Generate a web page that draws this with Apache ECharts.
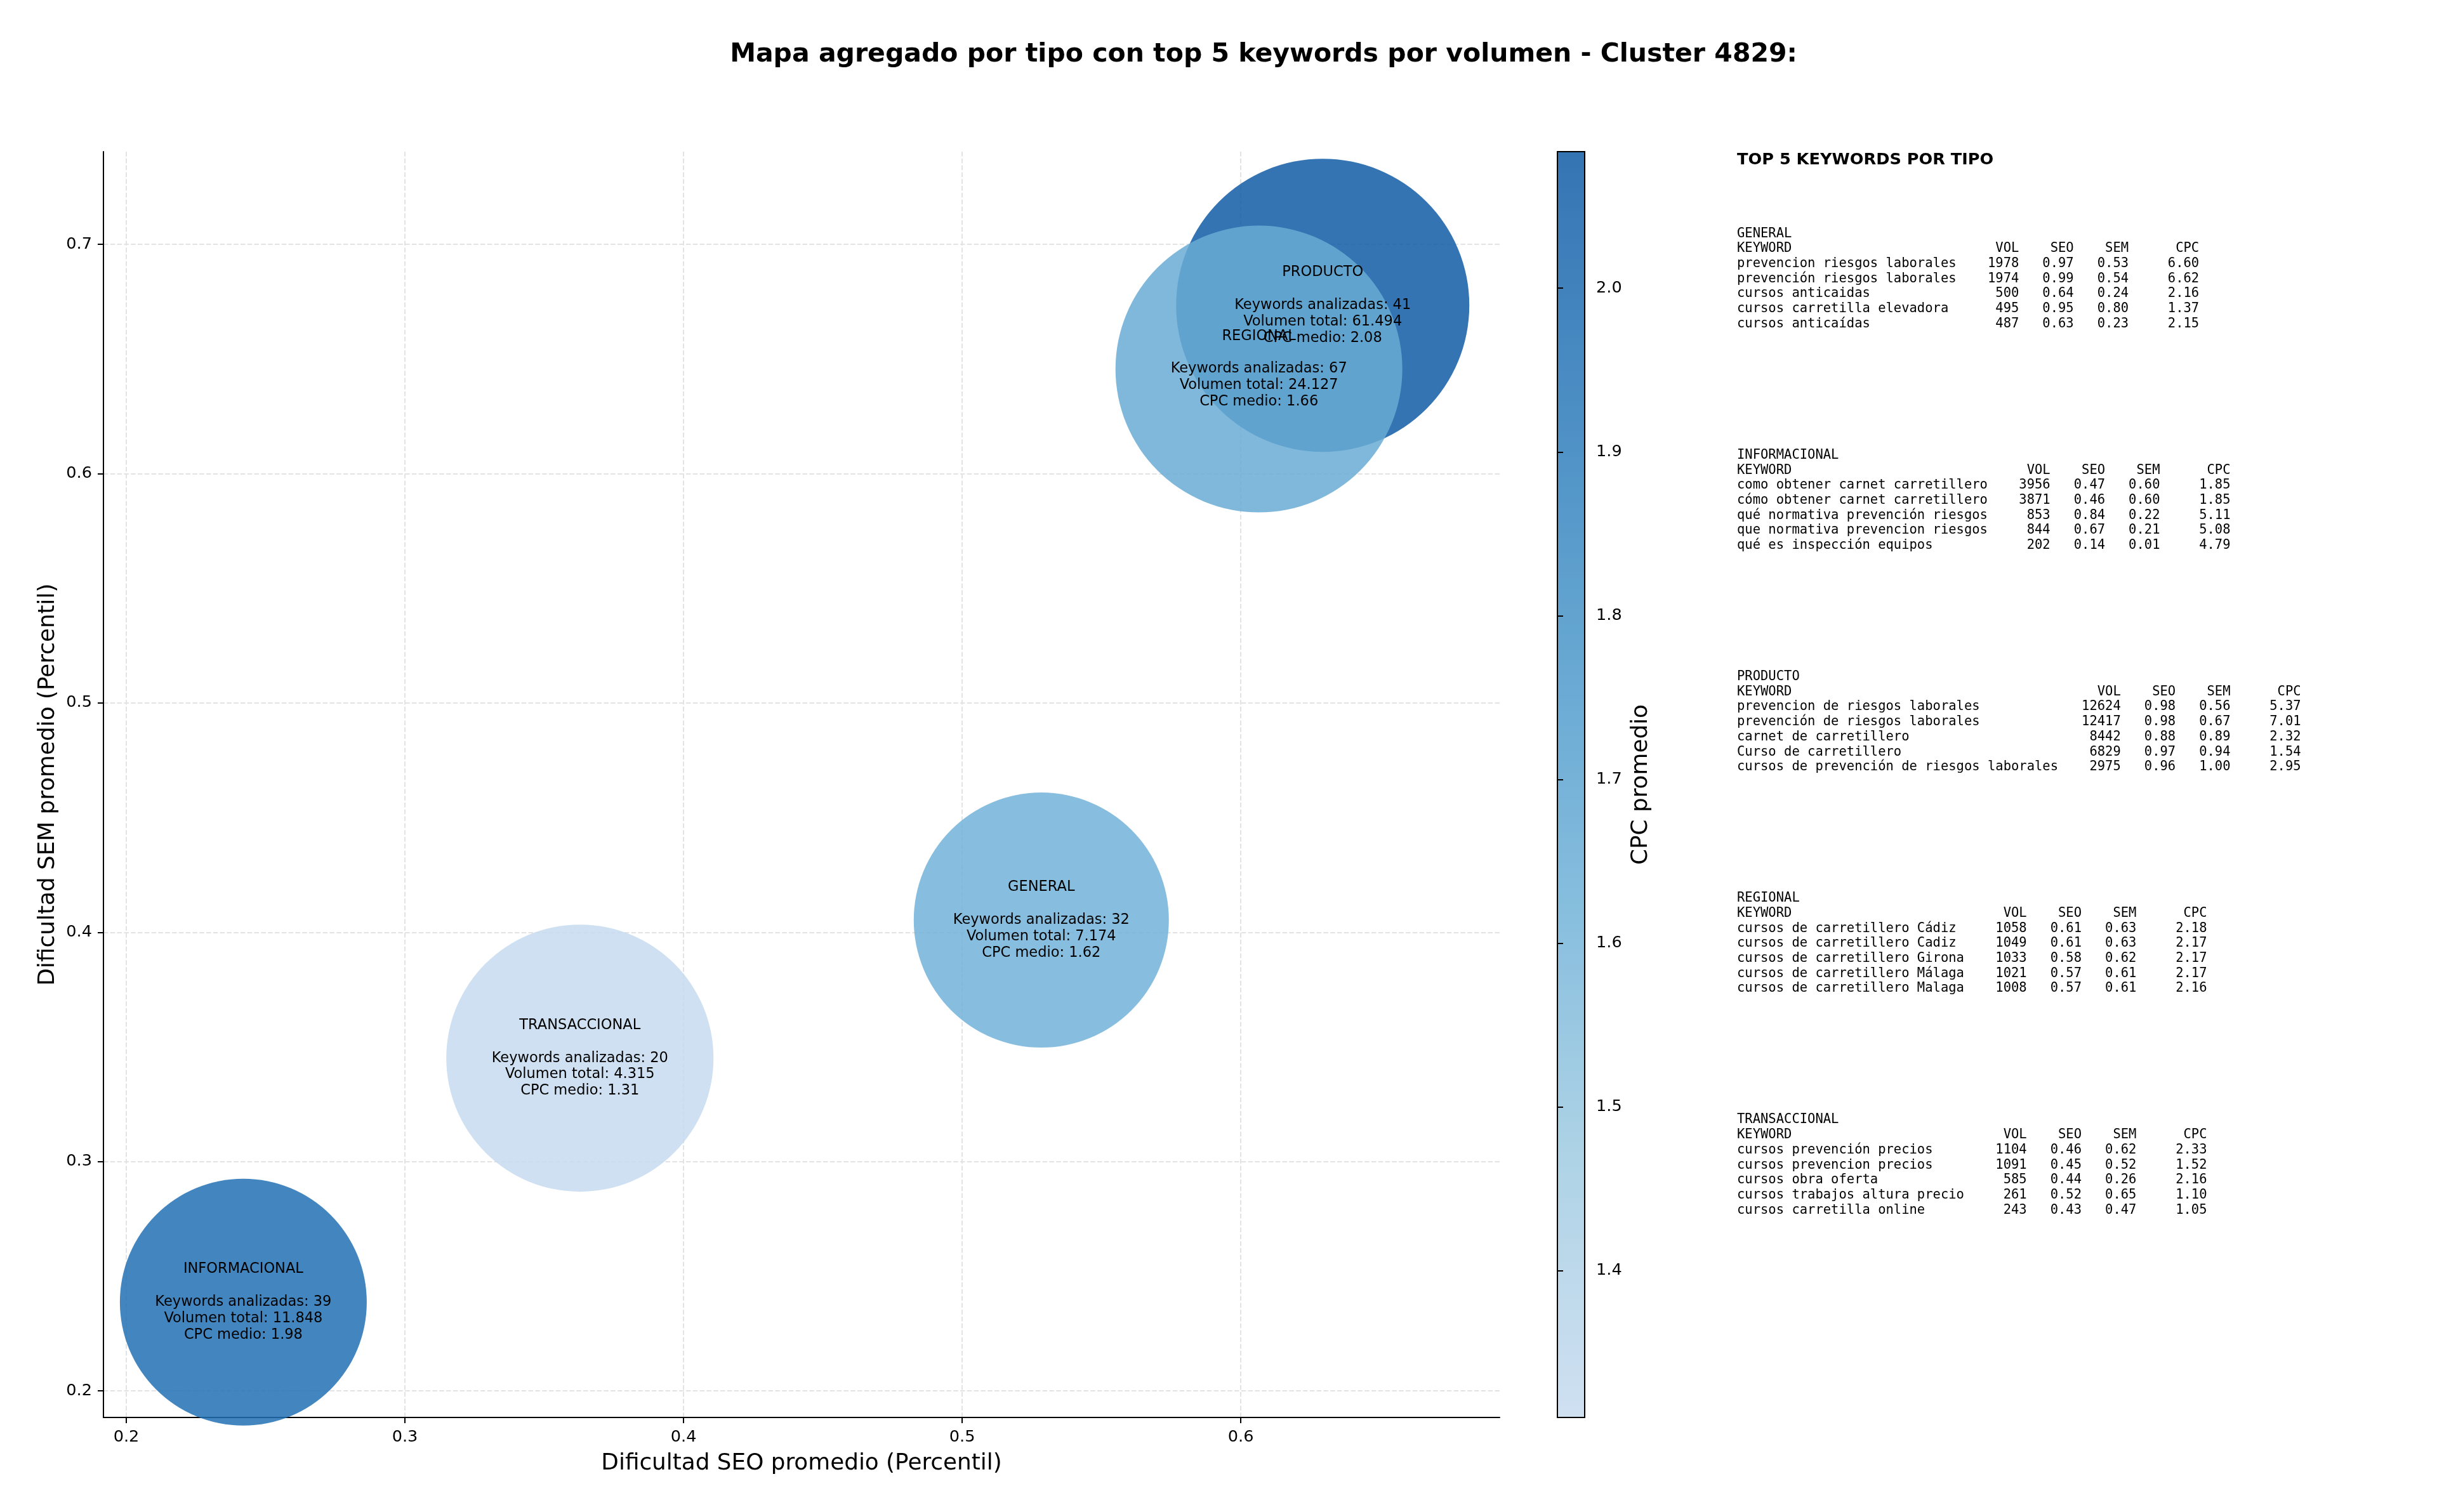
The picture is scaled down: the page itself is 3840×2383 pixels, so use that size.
<!DOCTYPE html>
<html>
<head>
<meta charset="utf-8">
<script src="https://cdn.jsdelivr.net/npm/echarts@6/dist/echarts.min.js"></script>
<style>
html, body { margin: 0; padding: 0; background: #fff; }
#chart { width: 3840px; height: 2383px; }
</style>
</head>
<body>
<div id="chart"></div>
<script>
// datos agregados por tipo (orden de dibujo)
var tipos = ['GENERAL', 'INFORMACIONAL', 'PRODUCTO', 'REGIONAL', 'TRANSACCIONAL'];
var seoMedio = [0.5284, 0.2420, 0.6294, 0.6065, 0.3628];
var semMedio = [0.4053, 0.2387, 0.6734, 0.6456, 0.3451];
var cpcMedio = [1.62, 1.98, 2.0834, 1.66, 1.3104];
var numKeywords = [32, 39, 41, 67, 20];
var volumenTotal = [7174, 11848, 61494, 24127, 4315];
var tamanoBurbuja = [402, 389, 462, 452, 421];

// ticks
var xTicks = [0.2, 0.3, 0.4, 0.5, 0.6];
var yTicks = [0.2, 0.3, 0.4, 0.5, 0.6, 0.7];
var cbTicks = [1.4, 1.5, 1.6, 1.7, 1.8, 1.9, 2.0];

// top 5 keywords: [keyword, vol, seo, sem, cpc]
var topGeneral = [
    ['prevencion riesgos laborales', 1978, 0.97, 0.53, 6.60],
    ['prevención riesgos laborales', 1974, 0.99, 0.54, 6.62],
    ['cursos anticaidas', 500, 0.64, 0.24, 2.16],
    ['cursos carretilla elevadora', 495, 0.95, 0.80, 1.37],
    ['cursos anticaídas', 487, 0.63, 0.23, 2.15]
];
var topInformacional = [
    ['como obtener carnet carretillero', 3956, 0.47, 0.60, 1.85],
    ['cómo obtener carnet carretillero', 3871, 0.46, 0.60, 1.85],
    ['qué normativa prevención riesgos', 853, 0.84, 0.22, 5.11],
    ['que normativa prevencion riesgos', 844, 0.67, 0.21, 5.08],
    ['qué es inspección equipos', 202, 0.14, 0.01, 4.79]
];
var topProducto = [
    ['prevencion de riesgos laborales', 12624, 0.98, 0.56, 5.37],
    ['prevención de riesgos laborales', 12417, 0.98, 0.67, 7.01],
    ['carnet de carretillero', 8442, 0.88, 0.89, 2.32],
    ['Curso de carretillero', 6829, 0.97, 0.94, 1.54],
    ['cursos de prevención de riesgos laborales', 2975, 0.96, 1.00, 2.95]
];
var topRegional = [
    ['cursos de carretillero Cádiz', 1058, 0.61, 0.63, 2.18],
    ['cursos de carretillero Cadiz', 1049, 0.61, 0.63, 2.17],
    ['cursos de carretillero Girona', 1033, 0.58, 0.62, 2.17],
    ['cursos de carretillero Málaga', 1021, 0.57, 0.61, 2.17],
    ['cursos de carretillero Malaga', 1008, 0.57, 0.61, 2.16]
];
var topTransaccional = [
    ['cursos prevención precios', 1104, 0.46, 0.62, 2.33],
    ['cursos prevencion precios', 1091, 0.45, 0.52, 1.52],
    ['cursos obra oferta', 585, 0.44, 0.26, 2.16],
    ['cursos trabajos altura precio', 261, 0.52, 0.65, 1.10],
    ['cursos carretilla online', 243, 0.43, 0.47, 1.05]
];
var bloques = [
    ['GENERAL', topGeneral],
    ['INFORMACIONAL', topInformacional],
    ['PRODUCTO', topProducto],
    ['REGIONAL', topRegional],
    ['TRANSACCIONAL', topTransaccional]
];

var cpcMin = Math.min.apply(null, cpcMedio);
var cpcMax = Math.max.apply(null, cpcMedio);

// escala de color (burbujas con alpha 0.85, barra ya mezclada con blanco)
var coloresBurbuja = ['#c6dbef', '#a1cbe2', '#72b2d8', '#4b98ca', '#2b7aba', '#115ca5'];
var coloresBarra = ['#cfe0f1', '#afd3e6', '#87bede', '#66a7d2', '#4b8ec4', '#3574b3'];

//separador de miles con punto
function miles(n) {
    return String(n).replace(/\B(?=(\d{3})+(?!\d))/g, '.');
}

function tablaTexto(nombre, filas) {
    var w = 0;
    filas.forEach(function(f) { w = Math.max(w, f[0].length); });
    var lineas = [nombre];
    lineas.push('KEYWORD'.padEnd(w) + ' ' + 'VOL'.padStart(7) + ' ' + 'SEO'.padStart(6) + ' ' +
        'SEM'.padStart(6) + ' ' + 'CPC'.padStart(8));
    filas.forEach(function(f) {
        lineas.push(f[0].padEnd(w) + ' ' + String(f[1]).padStart(7) + ' ' + f[2].toFixed(2).padStart(6) + ' ' +
            f[3].toFixed(2).padStart(6) + ' ' + f[4].toFixed(2).padStart(8));
    });
    return lineas.join('\n');
}

var datos = tipos.map(function(t, i) {
    return [seoMedio[i], semMedio[i], cpcMedio[i], tamanoBurbuja[i]];
});

var graficos = [{
    type: 'text',
    x: 2737,
    y: 252,
    style: {
        text: 'TOP 5 KEYWORDS POR TIPO',
        fontFamily: 'DejaVu Sans',
        fontWeight: 'bold',
        fontSize: 25.6,
        fill: '#000',
        verticalAlign: 'middle'
    }
}];
bloques.forEach(function(b, i) {
    graficos.push({
        type: 'text',
        x: 2737,
        y: 356.5 + 349.2 * i,
        style: {
            text: tablaTexto(b[0], b[1]),
            fontFamily: 'DejaVu Sans Mono',
            fontSize: 20.5,
            lineHeight: 23.7,
            fill: '#000',
            verticalAlign: 'top'
        }
    });
});

var chart = echarts.init(document.getElementById('chart'));

var textoEje = { color: '#000', fontFamily: 'DejaVu Sans' };
var lineaNegra = { color: '#000', width: 2 };
var rejilla = { show: true, lineStyle: { color: '#e3e3e3', width: 2, type: [7.5, 3.3] } };

chart.setOption({
    backgroundColor: '#fff',
    animation: false,
    title: {
        text: 'Mapa agregado por tipo con top 5 keywords por volumen - Cluster 4829:',
        left: 1986,
        top: 61,
        textAlign: 'center',
        textStyle: { fontFamily: 'DejaVu Sans', fontWeight: 'bold', fontSize: 41, color: '#000' }
    },
    grid: [{
        left: 163, top: 239, width: 2200, height: 1995
    }, {
        left: 2454, top: 239, width: 43, height: 1995,
        show: true, borderColor: '#000', borderWidth: 2, z: 10
    }],
    xAxis: [{
        type: 'value',
        min: 0.1918,
        max: 0.6929,
        name: 'Dificultad SEO promedio (Percentil)',
        nameLocation: 'middle',
        nameGap: 55,
        nameTextStyle: { color: '#000', fontFamily: 'DejaVu Sans', fontSize: 35.8 },
        axisLine: { lineStyle: lineaNegra },
        axisTick: { customValues: xTicks, length: 9, lineStyle: lineaNegra },
        axisLabel: Object.assign({ customValues: xTicks, fontSize: 25.6, margin: 18 }, textoEje),
        splitLine: rejilla
    }, {
        gridIndex: 1, type: 'value', show: false, min: 0, max: 1
    }],
    yAxis: [{
        type: 'value',
        min: 0.1884,
        max: 0.7404,
        name: 'Dificultad SEM promedio (Percentil)',
        nameLocation: 'middle',
        nameGap: 69,
        nameTextStyle: { color: '#000', fontFamily: 'DejaVu Sans', fontSize: 35.8 },
        axisLine: { lineStyle: lineaNegra },
        axisTick: { customValues: yTicks, length: 9, lineStyle: lineaNegra },
        axisLabel: Object.assign({ customValues: yTicks, fontSize: 25.6, margin: 18 }, textoEje),
        splitLine: rejilla
    }, {
        gridIndex: 1,
        type: 'value',
        position: 'right',
        min: cpcMin,
        max: cpcMax,
        z: 10,
        name: 'CPC promedio',
        nameLocation: 'middle',
        nameRotate: 90,
        nameGap: 71,
        nameTextStyle: { color: '#000', fontFamily: 'DejaVu Sans', fontSize: 35.8 },
        axisLine: { show: false },
        axisTick: { customValues: cbTicks, length: 9, lineStyle: lineaNegra },
        axisLabel: Object.assign({
            customValues: cbTicks, fontSize: 25.6, margin: 18,
            formatter: function(v) { return v.toFixed(1); }
        }, textoEje),
        splitLine: { show: false }
    }],
    visualMap: [{
        type: 'continuous',
        show: false,
        seriesIndex: 0,
        dimension: 2,
        min: cpcMin,
        max: cpcMax,
        inRange: { color: coloresBurbuja }
    }, {
        // barra de color
        type: 'continuous',
        seriesIndex: [],
        min: cpcMin,
        max: cpcMax,
        left: 2454,
        top: 239,
        itemWidth: 43,
        itemHeight: 1995,
        padding: 0,
        calculable: false,
        hoverLink: false,
        inRange: { color: coloresBarra }
    }],
    graphic: graficos,
    series: [{
        type: 'scatter',
        data: datos,
        symbolSize: function(v) { return v[3]; },
        itemStyle: { opacity: 0.85 },
        emphasis: { disabled: true },
        label: {
            show: true,
            position: 'inside',
            color: '#000',
            opacity: 1,
            fontFamily: 'DejaVu Sans',
            fontSize: 22.5,
            lineHeight: 25.8,
            align: 'center',
            formatter: function(p) {
                var i = p.dataIndex;
                return tipos[i] + '\n\nKeywords analizadas: ' + numKeywords[i] +
                    '\nVolumen total: ' + miles(volumenTotal[i]) +
                    '\nCPC medio: ' + cpcMedio[i].toFixed(2);
            }
        }
    }]
});
</script>
</body>
</html>
